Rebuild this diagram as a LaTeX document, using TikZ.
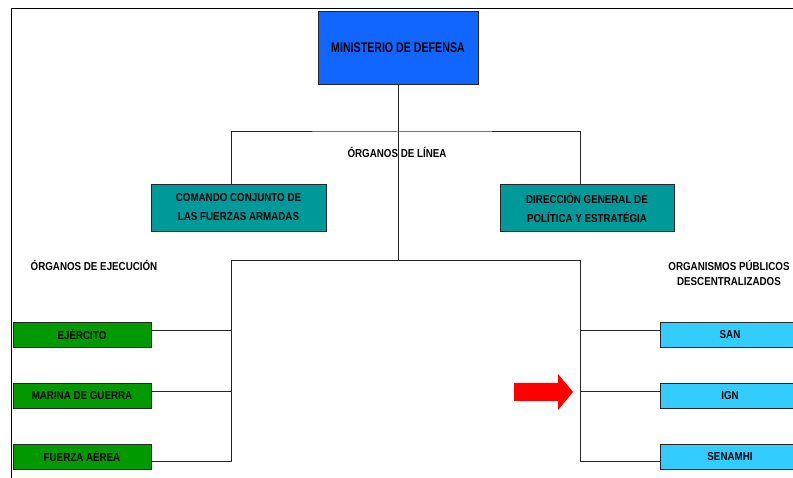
\documentclass[tikz,border=0pt]{standalone}
\usepackage{fontspec}
\setmainfont{Liberation Sans}
\newfontfamily\orgfont[FakeStretch=0.85]{Liberation Sans}
\newfontfamily\minfont[FakeStretch=0.76]{Liberation Sans}
\definecolor{minblue}{RGB}{17,102,255}
\definecolor{lineateal}{RGB}{0,153,153}
\definecolor{ejecgreen}{RGB}{0,153,0}
\definecolor{opdblue}{RGB}{51,204,255}

\begin{document}
\begin{tikzpicture}[x=1pt,y=-1pt,unit/.style={draw=black!85,line width=0.9pt,inner sep=0pt,align=center,font=\orgfont\bfseries\fontsize{11.5}{19}\selectfont},rama/.style={draw=black!85,line width=1pt},rotulo/.style={align=center,inner sep=0pt,font=\orgfont\bfseries\fontsize{11.5}{15}\selectfont}]
\useasboundingbox (0,0) rectangle (793,478);
\clip (0,0) rectangle (793,478);
\fill[white] (0,0) rectangle (793,478);
\draw[line width=1pt] (11,478) -- (11,9) -- (793,9);
\node[unit,fill=minblue,minimum width=160pt,minimum height=73pt,font=\minfont\bfseries\fontsize{14}{16}\selectfont] (min) at (398,47.5) {MINISTERIO DE DEFENSA};
\node[unit,fill=lineateal,minimum width=175pt,minimum height=47pt] (ccffaa) at (238.5,207.5) {COMANDO CONJUNTO DE\\LAS FUERZAS ARMADAS};
\node[unit,fill=lineateal,minimum width=174pt,minimum height=47pt] (dgpe) at (587,207.5) {DIRECCIÓN GENERAL DE\\POLÍTICA Y ESTRATÉGIA};
\node[unit,fill=ejecgreen,minimum width=138pt,minimum height=25pt] (ejer) at (82,334.5) {EJÉRCITO};
\node[unit,fill=ejecgreen,minimum width=138pt,minimum height=25pt] (mgp) at (82,395.5) {MARINA DE GUERRA};
\node[unit,fill=ejecgreen,minimum width=138pt,minimum height=25pt] (fap) at (82,456.5) {FUERZA AÉREA};
\node[unit,fill=opdblue,minimum width=140pt,minimum height=25pt] (san) at (730,334.5) {SAN};
\node[unit,fill=opdblue,minimum width=140pt,minimum height=25pt] (ign) at (730,395.5) {IGN};
\node[unit,fill=opdblue,minimum width=140pt,minimum height=25pt] (senamhi) at (730,456.5) {SENAMHI};
\coordinate (linea) at (398,132);
\coordinate (ejec) at (398,261);
\coordinate (izq) at (231,261);
\coordinate (der) at (580,261);
\draw[rama] (min.south) -- (ejec);
\draw[rama] (ccffaa.north -| izq) |- (linea) -| (dgpe.north -| der);
\draw[rama] ([yshift=-4.5pt]fap.east) -| (izq) -- (der) |- ([yshift=-4.5pt]senamhi.west);
\draw[rama] ([yshift=3.5pt]ejer.east) -- ([yshift=3.5pt]ejer.east -| izq);
\draw[rama] ([yshift=3.5pt]mgp.east) -- ([yshift=3.5pt]mgp.east -| izq);
\draw[rama] ([yshift=3.5pt]san.west) -- ([yshift=3.5pt]san.west -| der);
\draw[rama] ([yshift=3.5pt]ign.west) -- ([yshift=3.5pt]ign.west -| der);
\node[rotulo] (lin) at (397,152) {ÓRGANOS DE LÍNEA};
\node[rotulo] (oe) at (94,265) {ÓRGANOS DE EJECUCIÓN};
\node[rotulo] (opd) at (729,272.5) {ORGANISMOS PÚBLICOS\\DESCENTRALIZADOS};
\fill[red] (514,383) -- (558,383) -- (558,374) -- (573,392) -- (558,410) -- (558,401) -- (514,401) -- cycle;
\end{tikzpicture}
\end{document}
